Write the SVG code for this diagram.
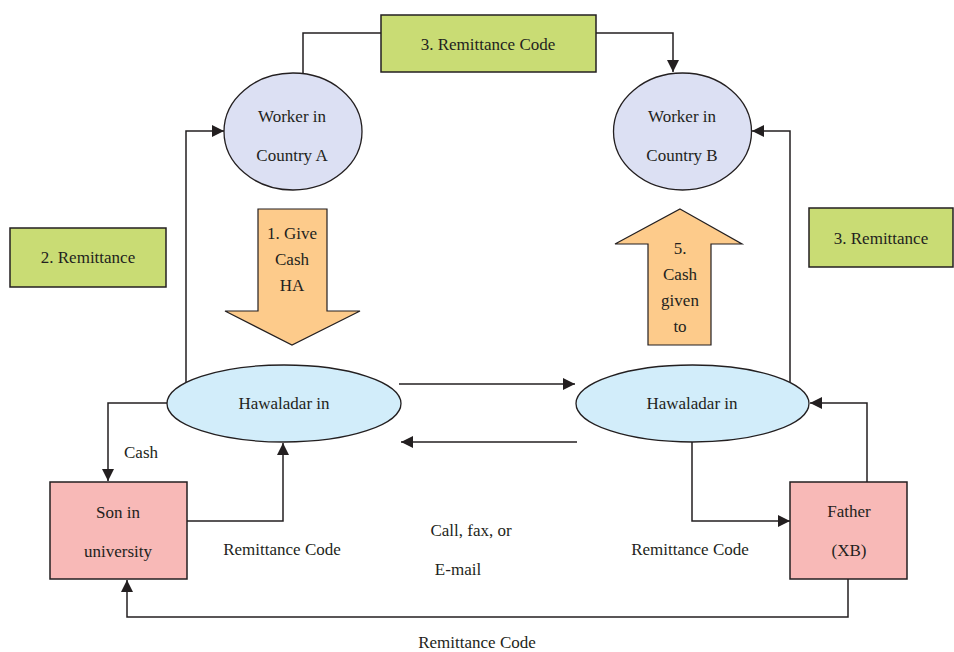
<svg xmlns="http://www.w3.org/2000/svg" width="954" height="652" viewBox="0 0 954 652">
  <defs>
    <marker id="arrow" viewBox="0 0 10 10" refX="10" refY="5" markerWidth="12" markerHeight="12" markerUnits="userSpaceOnUse" orient="auto">
      <path d="M0,0 L10,5 L0,10 Z" fill="#231f20"/>
    </marker>
    <style>
      text { font-family: "Liberation Serif", "Times New Roman", serif; font-size: 17px; fill: #231f20; text-anchor: middle; dominant-baseline: central; }
      .green { fill: #c9dc74; stroke: #231f20; stroke-width: 1.5; }
      .worker { fill: #dce0f3; stroke: #231f20; stroke-width: 1.3; }
      .hawala { fill: #d2edfa; stroke: #231f20; stroke-width: 1.3; }
      .person { fill: #f8b9b7; stroke: #231f20; stroke-width: 1.5; }
      .bigarrow { fill: #fdcb8b; stroke: #231f20; stroke-width: 1.2; }
      .conn { fill: none; stroke: #231f20; stroke-width: 1.5; }
    </style>
  </defs>
  <rect width="954" height="652" fill="#ffffff"/>

  <!-- connectors -->
  <g id="connectors">
    <path class="conn" d="M303,74 V33 H381"/>
    <path class="conn" d="M596,33 H673 V72" marker-end="url(#arrow)"/>
    <path class="conn" d="M186,382 V131 H224" marker-end="url(#arrow)"/>
    <path class="conn" d="M790,382 V131 H752" marker-end="url(#arrow)"/>
    <path class="conn" d="M399,384 H575" marker-end="url(#arrow)"/>
    <path class="conn" d="M577,442 H401" marker-end="url(#arrow)"/>
    <path class="conn" d="M167,403 H108 V481" marker-end="url(#arrow)"/>
    <path class="conn" d="M187,521 H283 V443" marker-end="url(#arrow)"/>
    <path class="conn" d="M692,442 V521 H790" marker-end="url(#arrow)"/>
    <path class="conn" d="M867,482 V403 H810" marker-end="url(#arrow)"/>
    <path class="conn" d="M848,579 V617 H127 V580" marker-end="url(#arrow)"/>
  </g>

  <!-- labels on connectors -->
  <g id="labels">
    <text x="141" y="452">Cash</text>
    <text x="282" y="549">Remittance Code</text>
    <text x="690" y="549">Remittance Code</text>
    <text x="471" y="530">Call, fax, or</text>
    <text x="458" y="569">E-mail</text>
    <text x="477" y="642">Remittance Code</text>
  </g>

  <g id="code-top">
    <rect class="green" x="381" y="15" width="215" height="57"/>
    <text x="488" y="44">3. Remittance Code</text>
  </g>

  <g id="remit-left">
    <rect class="green" x="10" y="228" width="156" height="59"/>
    <text x="88" y="257">2. Remittance</text>
  </g>

  <g id="remit-right">
    <rect class="green" x="809" y="208" width="144" height="59"/>
    <text x="881" y="238">3. Remittance</text>
  </g>

  <g id="worker-a">
    <ellipse class="worker" cx="293" cy="131.5" rx="69" ry="58.5"/>
    <text x="292" y="116">Worker in</text>
    <text x="292" y="155">Country A</text>
  </g>

  <g id="worker-b">
    <ellipse class="worker" cx="682.5" cy="131.5" rx="69" ry="58.5"/>
    <text x="682" y="116">Worker in</text>
    <text x="682" y="155">Country B</text>
  </g>

  <g id="give-cash">
    <path class="bigarrow" d="M258,209 H327 V311 H360 L292,345 L225,311 H258 Z"/>
    <text x="292" y="233">1. Give</text>
    <text x="292" y="259">Cash</text>
    <text x="292" y="285">HA</text>
  </g>

  <g id="cash-given">
    <path class="bigarrow" d="M680,209 L742,244 H711 V345 H648 V244 H615 Z"/>
    <text x="680" y="248">5.</text>
    <text x="680" y="274">Cash</text>
    <text x="680" y="300">given</text>
    <text x="680" y="326">to</text>
  </g>

  <g id="hawaladar-a">
    <ellipse class="hawala" cx="284" cy="403.5" rx="117" ry="38.5"/>
    <text x="284" y="403">Hawaladar in</text>
  </g>

  <g id="hawaladar-b">
    <ellipse class="hawala" cx="692.5" cy="403.5" rx="116.5" ry="38.5"/>
    <text x="692" y="403">Hawaladar in</text>
  </g>

  <g id="son">
    <rect class="person" x="50" y="482" width="137" height="97"/>
    <text x="118" y="512">Son in</text>
    <text x="118" y="551">university</text>
  </g>

  <g id="father">
    <rect class="person" x="790" y="482" width="117" height="97"/>
    <text x="849" y="511">Father</text>
    <text x="849" y="550">(XB)</text>
  </g>
</svg>
